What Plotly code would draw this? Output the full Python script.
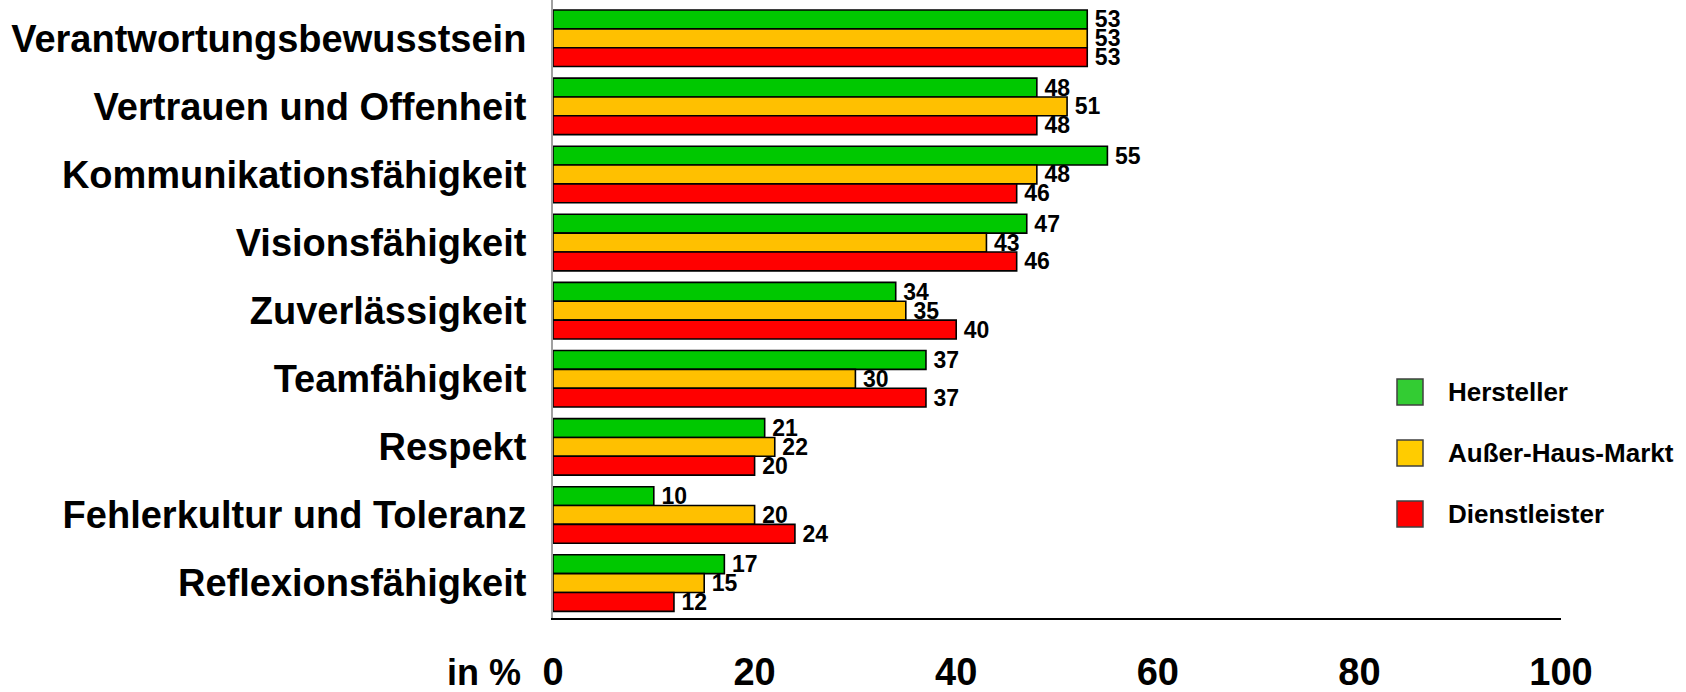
import plotly.graph_objects as go

categories = ["Verantwortungsbewusstsein", "Vertrauen und Offenheit", "Kommunikationsfähigkeit",
              "Visionsfähigkeit", "Zuverlässigkeit", "Teamfähigkeit", "Respekt",
              "Fehlerkultur und Toleranz", "Reflexionsfähigkeit"]
hersteller = [53, 48, 55, 47, 34, 37, 21, 10, 17]
ausser_haus = [53, 51, 48, 43, 35, 30, 22, 20, 15]
dienstleister = [53, 48, 46, 46, 40, 37, 20, 24, 12]
series_names = ["Hersteller", "Außer-Haus-Markt", "Dienstleister"]
x_ticks = [0, 20, 40, 60, 80, 100]

bar_colors = ["#00C800", "#FFC000", "#FF0000"]
legend_colors = ["#33CC33", "#FFCC00", "#FF0000"]

W, H = 1686, 692
L, R, T, B = 553, 125, 0, 74
PW, PH = W - L - R, H - T - B

def px_x(px):
    return (px - L) / PW

def px_y(py):
    return (H - B - py) / PH

SANS = "Liberation Sans, Arial, sans-serif"

fig = go.Figure()
for name, vals, col in zip(series_names, [hersteller, ausser_haus, dienstleister], bar_colors):
    fig.add_trace(go.Bar(
        y=categories, x=vals, orientation="h", name=name,
        marker=dict(color=col, line=dict(color="#000000", width=1.6)),
        texttemplate="\u2009%{x}", textposition="outside", constraintext="none",
        cliponaxis=False,
        textfont=dict(family=SANS, size=23, color="#000000", weight="bold"),
        showlegend=False,
    ))

fig.update_layout(
    width=W, height=H,
    margin=dict(l=L, r=R, t=T, b=B, pad=0),
    barmode="group", bargap=0.17, bargroupgap=0,
    plot_bgcolor="white", paper_bgcolor="white",
    xaxis=dict(range=[0, 100], tickmode="array", tickvals=x_ticks,
               ticktext=[str(t) for t in x_ticks], automargin=False,
               showgrid=False, zeroline=False, showline=True, linecolor="#000000", linewidth=2,
               ticks="", ticklabelstandoff=19,
               tickfont=dict(family=SANS, size=38, color="#000000", weight="bold")),
    yaxis=dict(range=[8.513, -0.562], showgrid=False, zeroline=False, automargin=False,
               showline=True, linecolor="#A0A0A0", linewidth=2, ticks="",
               ticklabelstandoff=17,
               tickfont=dict(family=SANS, size=38, color="#000000", weight="bold")),
)

fig.add_annotation(x=px_x(484), y=px_y(673), xref="paper", yref="paper",
                   text="in %", showarrow=False, xanchor="center", yanchor="middle",
                   font=dict(family=SANS, size=36, color="#000000", weight="bold"))

leg_centers = [392, 453, 514]
for name, col, cy in zip(series_names, legend_colors, leg_centers):
    fig.add_shape(type="rect", xref="paper", yref="paper",
                  x0=px_x(1397), x1=px_x(1423), y0=px_y(cy + 13), y1=px_y(cy - 13),
                  fillcolor=col, line=dict(color="#404040", width=1.5))
    fig.add_annotation(x=px_x(1446), y=px_y(cy), xref="paper", yref="paper",
                       text=name, showarrow=False, xanchor="left", yanchor="middle",
                       font=dict(family=SANS, size=26, color="#000000", weight="bold"))

fig.write_html("out.html")
